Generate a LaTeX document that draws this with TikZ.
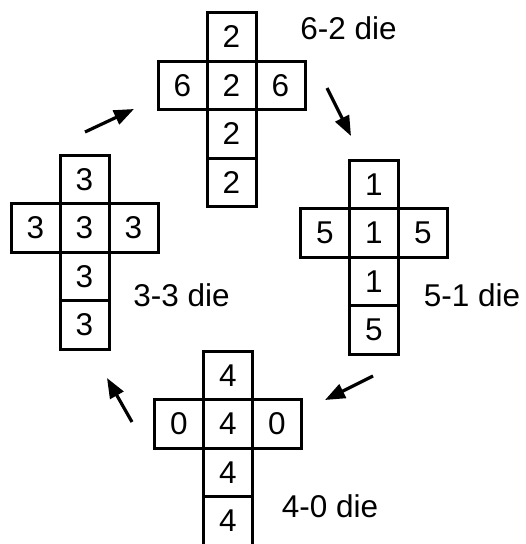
\documentclass[tikz,border=0pt]{standalone}
\usepackage{fontspec}
\setmainfont{Liberation Sans}
\usetikzlibrary{arrows.meta}
\tikzset{
  cell/.style={draw, line width=3pt, minimum width=49pt, minimum height=48.5pt, inner sep=0pt,
    font=\fontsize{31.5}{36}\selectfont},
  lbl/.style={inner sep=0pt, font=\fontsize{31.5}{36}\selectfont},
  flow/.style={line width=3.2pt, -{Triangle[length=20pt,width=15pt]}}
}
% \dienet{name}{cx}{topy}{top}{side}{centre}{third}{fourth}
\newcommand{\dienet}[8]{%
  \node[cell] (#1t) at (#2, #3+24.25) {#4};
  \node[cell] (#1l) at (#2-49, #3+72.75) {#5};
  \node[cell] (#1c) at (#2, #3+72.75) {#6};
  \node[cell] (#1r) at (#2+49, #3+72.75) {#5};
  \node[cell] (#1a) at (#2, #3+121.25) {#7};
  \node[cell] (#1b) at (#2, #3+169.75) {#8};
}
\begin{document}
\begin{tikzpicture}[x=1pt,y=-1pt]
\useasboundingbox (0,0) rectangle (526,544);
\dienet{T}{231.5}{12.7}{2}{6}{2}{2}{2}
\dienet{L}{84.5}{155}{3}{3}{3}{3}{3}
\dienet{R}{374}{160}{1}{5}{1}{1}{5}
\dienet{B}{228}{351}{4}{0}{4}{4}{4}
\node[lbl] (Tlab) at (348.5,28) {6-2 die};
\node[lbl] (Llab) at (181.5,295) {3-3 die};
\node[lbl] (Rlab) at (472,295) {5-1 die};
\node[lbl] (Blab) at (330,506) {4-0 die};
\coordinate (a1s) at (85,132);  \coordinate (a1e) at (134,109);
\coordinate (a2s) at (327,88);  \coordinate (a2e) at (351,136);
\coordinate (a3s) at (373,376); \coordinate (a3e) at (325,400);
\coordinate (a4s) at (132,422); \coordinate (a4e) at (107,378);
\draw[flow] (a1s) -- (a1e);
\draw[flow] (a2s) -- (a2e);
\draw[flow] (a3s) -- (a3e);
\draw[flow] (a4s) -- (a4e);
\end{tikzpicture}
\end{document}
